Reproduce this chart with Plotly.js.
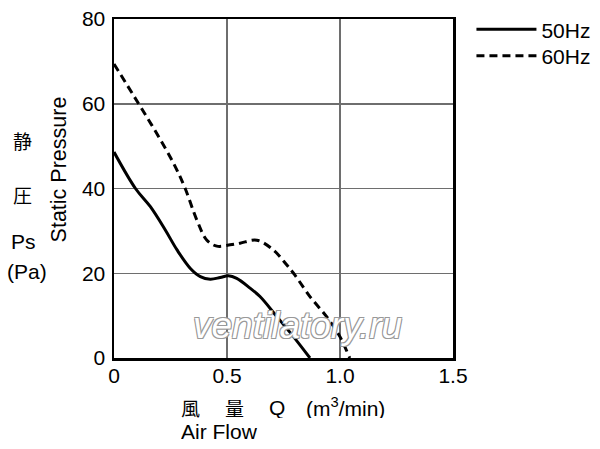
<!DOCTYPE html>
<html><head><meta charset="utf-8">
<script src="https://cdn.plot.ly/plotly-3.0.1.min.js"></script>
<style>body{margin:0;background:#fff}#c{width:600px;height:449px}</style>
</head><body><div id="c"></div>
<script>
const x50 = [0, 0.095, 0.161, 0.227, 0.279, 0.337, 0.382, 0.426, 0.47, 0.506, 0.543, 0.602, 0.646, 0.72, 0.793, 0.867];
const y50 = [48.6, 40, 35.7, 30.2, 25.5, 21.2, 19.2, 18.6, 19.0, 19.4, 18.8, 16.5, 14.5, 9.8, 5.1, 0];
const x60 = [0, 0.109, 0.19, 0.264, 0.315, 0.367, 0.411, 0.455, 0.514, 0.558, 0.632, 0.705, 0.764, 0.80, 0.867, 0.94, 0.999, 1.043];
const y60 = [69.4, 60, 52.9, 45.9, 40, 32.5, 27.8, 26.4, 26.7, 27.1, 27.8, 25.5, 22.0, 19.6, 14.5, 9.8, 5.1, 0];
const xTickVals = [0, 0.5, 1.0, 1.5];
const xTickText = ["0", "0.5", "1.0", "1.5"];
const yTickVals = [0, 20, 40, 60, 80];
const seriesNames = ["50Hz", "60Hz"];

const F = '"Liberation Sans", Arial, Helvetica, sans-serif';
const CJK = '"Noto Sans CJK JP", "Noto Sans CJK SC", sans-serif';
const FS = 21;

const traces = [
  {x: x50, y: y50, name: seriesNames[0], mode: 'lines', legend: 'legend',
   line: {color: '#000', width: 3, shape: 'spline', smoothing: 1}},
  {x: x60, y: y60, name: seriesNames[1], mode: 'lines', legend: 'legend2',
   line: {color: '#000', width: 3, dash: '8px,5px', shape: 'spline', smoothing: 1}}
];

// plot area in pixels: left 113.5, right 453.5, top 18.7, bottom 358.3
const PX = v => (v - 113.5) / 340;
const PY = v => (358.3 - v) / 340;

function ann(text, x, y, opts) {
  return Object.assign({text: text, xref: 'paper', yref: 'paper', x: PX(x), y: PY(y),
    xanchor: 'center', yanchor: 'middle', showarrow: false,
    font: {family: F, size: FS, color: '#000'}}, opts || {});
}
const cjkFont = {family: CJK, size: 19, color: '#000'};
function leg(yc) {
  return {x: PX(472), y: PY(yc), xanchor: 'left', yanchor: 'middle',
          font: {family: F, size: FS, color: '#000'}, itemwidth: 60,
          bgcolor: 'rgba(0,0,0,0)'};
}

const layout = {
  width: 600, height: 449,
  margin: {l: 113.5, r: 146.5, t: 18.7, b: 90.7, autoexpand: false},
  paper_bgcolor: '#fff', plot_bgcolor: '#fff',
  font: {family: F, size: FS, color: '#000'},
  showlegend: true,
  legend: leg(29),
  legend2: leg(55.5),
  xaxis: {range: [0, 1.5], tickvals: xTickVals, ticktext: xTickText,
          showgrid: true, gridcolor: '#6e6e6e', gridwidth: 1.5,
          showline: true, linecolor: '#000', linewidth: 2.5, mirror: true,
          zeroline: false, ticks: '', ticklabelstandoff: -3,
          tickfont: {family: F, size: FS, color: '#000'}},
  yaxis: {range: [0, 80], tickvals: yTickVals,
          showgrid: true, gridcolor: '#6e6e6e', gridwidth: 1.5,
          showline: true, linecolor: '#000', linewidth: 2.5, mirror: true,
          zeroline: false, ticks: '', ticklabelstandoff: 2,
          tickfont: {family: F, size: FS, color: '#000'}},
  annotations: [
    ann('Static Pressure', 58.5, 169, {textangle: -90, font: {family: F, size: 21.5, color: '#000'}}),
    ann('静', 22, 140, {font: cjkFont, height: 22}),
    ann('圧', 22, 194, {font: cjkFont, height: 22}),
    ann('Ps', 23, 241),
    ann('(Pa)', 26.5, 272),
    ann('風', 190, 407, {font: cjkFont, height: 22}),
    ann('量', 234.5, 407, {font: cjkFont, height: 22}),
    ann('Q', 277, 407.5, {height: 22}),
    ann('(m<sup>3</sup>/min)', 304, 407.5, {xanchor: 'left', height: 22}),
    ann('Air Flow', 179, 432, {xanchor: 'left', height: 22}),
    ann('ventilatory.ru', 298, 326, {
      font: {family: F, size: 37, color: '#fff', style: 'italic',
             shadow: '1px 1px 0 #999, -1px -1px 0 #999, 1px -1px 0 #999, -1px 1px 0 #999'}})
  ]
};

Plotly.newPlot('c', traces, layout, {displayModeBar: false, staticPlot: true});
</script></body></html>
